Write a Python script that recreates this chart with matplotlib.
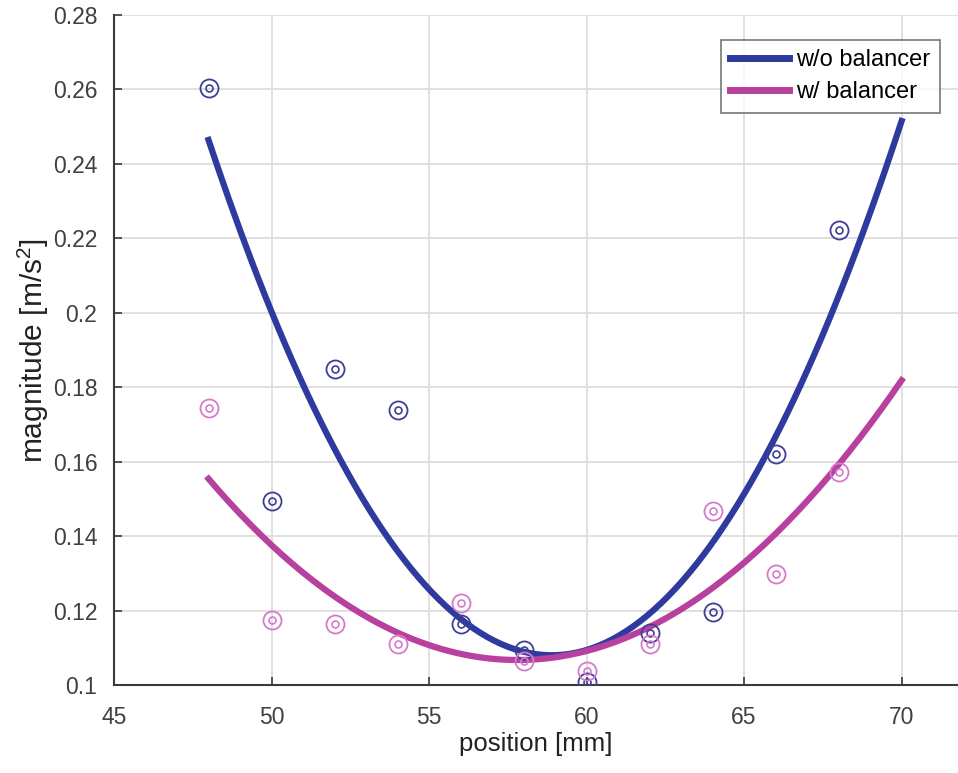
import numpy as np
import matplotlib
matplotlib.use("Agg")
import matplotlib.pyplot as plt

plt.rcParams['font.family'] = ['Liberation Sans', 'DejaVu Sans']
plt.rcParams['mathtext.default'] = 'regular'

# measured data
positions = [48, 50, 52, 54, 56, 58, 60, 62, 64, 66, 68]
without_bal = [0.2604, 0.1494, 0.1849, 0.1739, 0.1164, 0.1094, 0.1008, 0.1140, 0.1196, 0.1620, 0.2222]
with_bal = [0.1744, 0.1175, 0.1164, 0.1110, 0.1220, 0.1064, 0.1038, 0.1110, 0.1467, 0.1298, 0.1572]

# fitted curves read at sample positions
curve_x = [48, 50, 52, 54, 56, 58, 60, 62, 64, 66, 68, 70]
curve_y_wo = [0.2464, 0.2003, 0.1635, 0.1360, 0.1178, 0.1089, 0.1094, 0.1192, 0.1383, 0.1667, 0.2045, 0.2515]
curve_y_w = [0.1550, 0.1376, 0.1241, 0.1146, 0.1088, 0.1068, 0.1085, 0.1144, 0.1262, 0.1415, 0.1596, 0.1815]

xticks = [45, 50, 55, 60, 65, 70]
yticks = [0.1, 0.12, 0.14, 0.16, 0.18, 0.2, 0.22, 0.24, 0.26, 0.28]
ytick_labels = ['0.1', '0.12', '0.14', '0.16', '0.18', '0.2', '0.22', '0.24', '0.26', '0.28']

blue_line = '#2E3A9E'
pink_line = '#B8409E'
blue_mk = '#3E3E96'
pink_mk = '#D67ACB'

fig = plt.figure(figsize=(9.58, 7.73), dpi=100)
ax = fig.add_axes([0.119, 0.1138, 0.881, 0.8668])

xs = np.linspace(48, 70, 200)
p_wo = np.polyfit(curve_x, curve_y_wo, 2)
p_w = np.polyfit(curve_x, curve_y_w, 2)
ax.plot(xs, np.polyval(p_wo, xs), color=blue_line, lw=4.5, label='w/o balancer', zorder=3)
ax.plot(xs, np.polyval(p_w, xs), color=pink_line, lw=4.5, label='w/ balancer', zorder=3)

for ys, c in ((without_bal, blue_mk), (with_bal, pink_mk)):
    ax.plot(positions, ys, 'o', ms=13, mfc='none', mec=c, mew=1.3, zorder=4)
    ax.plot(positions, ys, 'o', ms=5, mfc='none', mec=c, mew=1.2, zorder=4)

ax.set_xlim(45, 71.79)
ax.set_ylim(0.1, 0.28)
ax.set_xticks(xticks)
ax.set_yticks(yticks)
ax.set_yticklabels(ytick_labels)
ax.grid(True, color='#DDDDDD', lw=1.3)
ax.set_axisbelow(True)
ax.tick_params(direction='in', length=6, width=1.2, colors='#3A3A3A', labelsize=16.5)
ax.tick_params(axis='x', pad=15)
ax.tick_params(axis='y', pad=12)
for lab in ax.get_xticklabels() + ax.get_yticklabels():
    lab.set_color('#404040')
for s in ['top', 'right']:
    ax.spines[s].set_visible(False)
for s in ['left', 'bottom']:
    ax.spines[s].set_color('#3A3A3A')
    ax.spines[s].set_linewidth(1.5)

ax.set_xlabel('position [mm]', fontsize=18.5, color='#222222', labelpad=2)
ax.set_ylabel('magnitude [m/s$^2$]', fontsize=21.5, color='#222222', labelpad=1)

leg = ax.legend(loc='upper right', bbox_to_anchor=(0.9787, 0.9627), fontsize=17, frameon=True,
                fancybox=False, edgecolor='#555555', handlelength=2.5, handletextpad=0.3,
                borderpad=0.4, labelspacing=0.42, borderaxespad=0)
leg.get_frame().set_linewidth(1.2)
for h in leg.get_lines():
    h.set_linewidth(5)

fig.savefig('out.png', dpi=100)
